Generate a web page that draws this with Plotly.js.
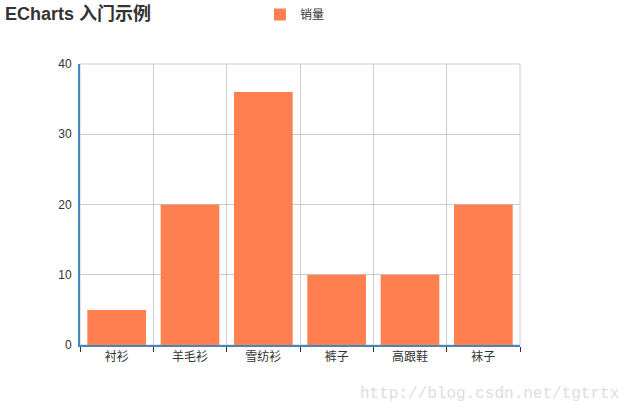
<!DOCTYPE html>
<html>
<head>
<meta charset="utf-8">
<script src="https://cdn.plot.ly/plotly-3.0.1.min.js"></script>
<style>html,body{margin:0;padding:0;background:#fff;}#chart{width:634px;height:410px;}</style>
</head>
<body>
<div id="chart"></div>
<script>
var categories = ["衬衫", "羊毛衫", "雪纺衫", "裤子", "高跟鞋", "袜子"];
var sales = [5, 20, 36, 10, 10, 20];
var seriesName = "销量";
var yTicks = [0, 10, 20, 30, 40];

var FONT = "Liberation Sans, Arial, Noto Sans CJK SC, sans-serif";

var data = [{
  type: "bar",
  x: categories,
  y: sales,
  name: seriesName,
  marker: {color: "#ff7f50", line: {width: 0}},
  hoverinfo: "none"
}];

var layout = {
  width: 634,
  height: 410,
  margin: {l: 80, r: 114, t: 64, b: 65},
  paper_bgcolor: "#ffffff",
  plot_bgcolor: "#ffffff",
  font: {family: FONT, size: 12, color: "#333"},
  bargap: 0.2,
  title: {
    text: "<b>ECharts 入门示例</b>",
    x: 0.008, xref: "container", xanchor: "left",
    y: 0.982, yref: "container", yanchor: "top",
    font: {family: FONT, size: 18, color: "#333"}
  },
  showlegend: true,
  legend: {
    orientation: "h",
    xref: "container", yref: "container",
    x: 0.41, xanchor: "left",
    y: 1.0, yanchor: "top",
    font: {family: FONT, size: 12, color: "#333"},
    bgcolor: "rgba(0,0,0,0)"
  },
  xaxis: {
    type: "category",
    tickson: "boundaries",
    showgrid: true,
    gridcolor: "#cccccc",
    gridwidth: 1,
    showline: true,
    linecolor: "#4488bb",
    linewidth: 2,
    ticks: "outside",
    ticklen: 5,
    tickcolor: "#333",
    tickwidth: 1,
    tickfont: {family: FONT, size: 12, color: "#333"},
    automargin: false,
    fixedrange: true
  },
  yaxis: {
    range: [0, 40],
    tickvals: yTicks,
    showgrid: true,
    gridcolor: "#cccccc",
    gridwidth: 1,
    zeroline: false,
    showline: true,
    linecolor: "#4488bb",
    linewidth: 2,
    ticks: "",
    ticklabelstandoff: 4,
    tickfont: {family: FONT, size: 12, color: "#333"},
    automargin: false,
    fixedrange: true
  },
  shapes: [{
    type: "rect", xref: "paper", yref: "paper",
    x0: 0, x1: 1, y0: 0, y1: 1,
    line: {color: "#cccccc", width: 1}, layer: "below"
  }],
  annotations: [{
    text: "http://blog.csdn.net/tgtrtx",
    xref: "paper", yref: "paper",
    x: 1.23, y: -0.135,
    xanchor: "right", yanchor: "top",
    showarrow: false,
    font: {family: "Liberation Mono, DejaVu Sans Mono, monospace", size: 16, color: "#dddddd"}
  }]
};

Plotly.newPlot("chart", data, layout, {staticPlot: true, displayModeBar: false});
</script>
</body>
</html>
